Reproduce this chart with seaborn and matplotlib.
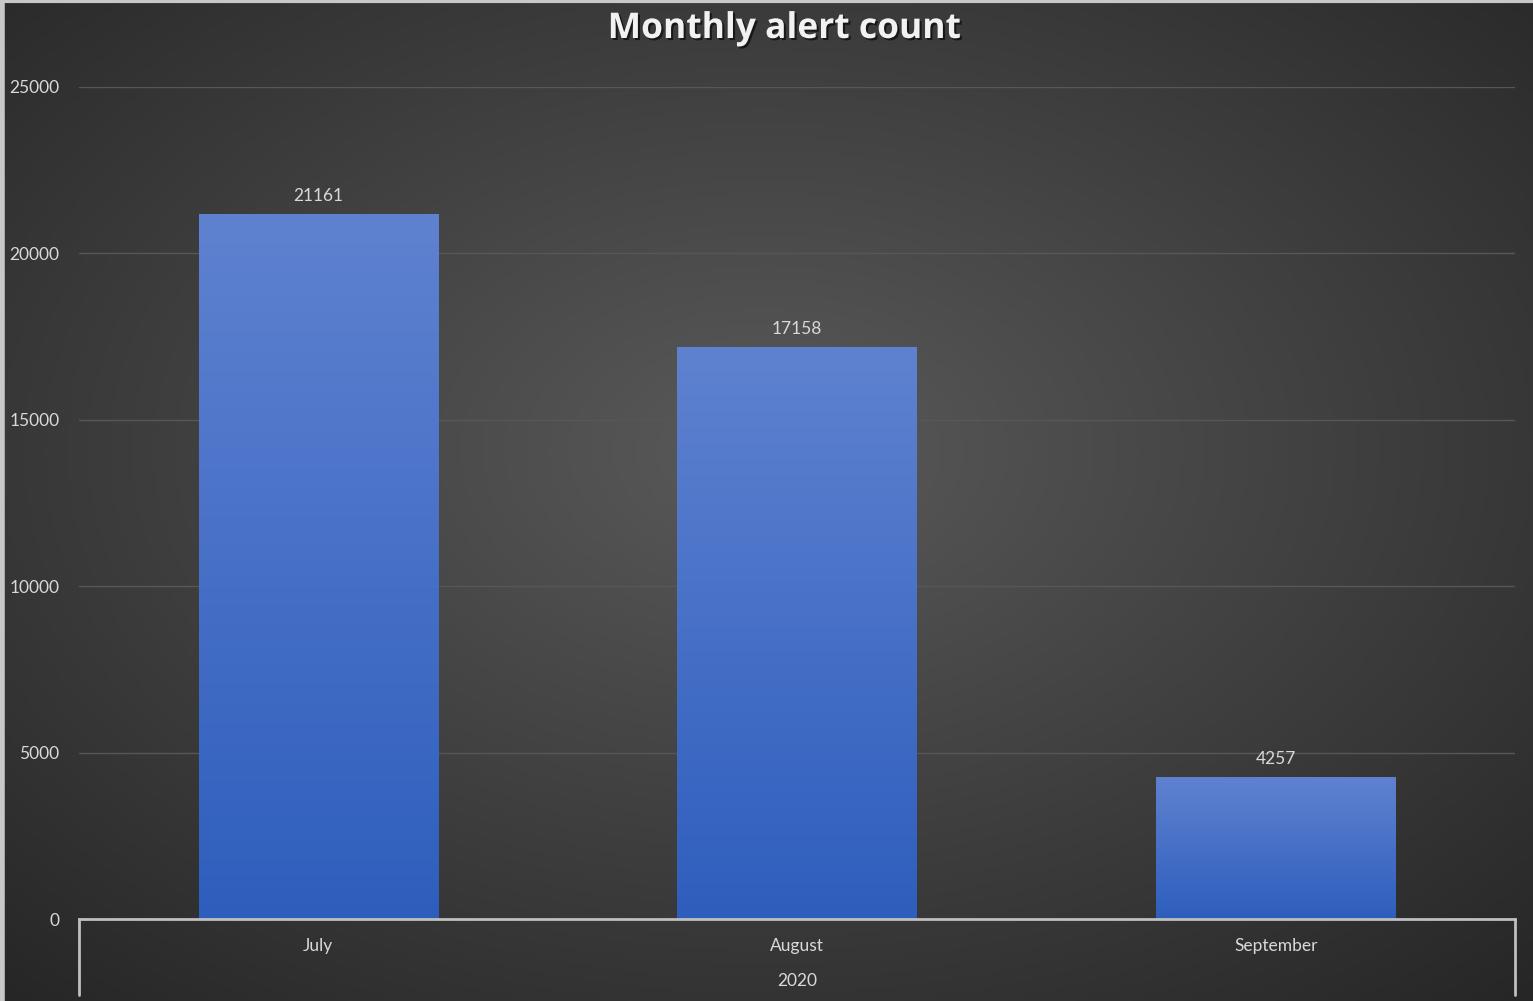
import numpy as np
import pandas as pd
import matplotlib
matplotlib.use("Agg")
import matplotlib.pyplot as plt
import matplotlib.patheffects as pe
from matplotlib.lines import Line2D
import seaborn as sns

months = ['July', 'August', 'September']
alerts = [21161, 17158, 4257]
year = '2020'
yticks = [0, 5000, 10000, 15000, 20000, 25000]

df = pd.DataFrame({'month': months, 'alerts': alerts})

sns.set_style('dark')
plt.rcParams['font.family'] = ['Lato', 'DejaVu Sans']

W, H = 1533, 1001
fig = plt.figure(figsize=(W / 100, H / 100), dpi=100)

# radial background gradient
bg = fig.add_axes([0, 0, 1, 1], zorder=-10)
yy, xx = np.mgrid[0:1:300j, 0:1:460j]
r = np.sqrt(((xx - 0.5) / 0.75) ** 2 + ((yy - 0.45) / 0.75) ** 2)
r = np.clip(r / r.max(), 0, 1)
c0 = np.array([0x5a, 0x5a, 0x5a]) / 255
c1 = np.array([0x26, 0x26, 0x26]) / 255
img = c0[None, None, :] * (1 - r[..., None]) + c1[None, None, :] * r[..., None]
bg.imshow(img, extent=[0, 1, 0, 1], aspect='auto', origin='upper')
bg.set_axis_off()
# thin light frame on top / left like the screenshot
fig.add_artist(Line2D([0, 1], [1 - 1 / H, 1 - 1 / H], color='#c8c8c8', lw=3))
fig.add_artist(Line2D([1.5 / W, 1.5 / W], [0, 1], color='#c8c8c8', lw=4))

ax = fig.add_axes([79 / W, 82 / H, 1436 / W, 832 / H])
ax.set_facecolor('none')
sns.barplot(data=df, x='month', y='alerts', width=0.5, color='#4472c4',
            ax=ax, zorder=3)

# replace flat bars with vertical gradient fill
grad = np.linspace(0, 1, 256)[:, None]
top = np.array([0x5f, 0x82, 0xd0]) / 255
bot = np.array([0x2e, 0x5e, 0xbd]) / 255
gimg = top[None, None, :] * (1 - grad[..., None]) + bot[None, None, :] * grad[..., None]
for p in ax.patches:
    x0, y0 = p.get_x(), p.get_y()
    w, h = p.get_width(), p.get_height()
    p.set_facecolor('none')
    p.set_edgecolor('none')
    ax.imshow(np.repeat(gimg, 2, axis=1), extent=[x0, x0 + w, y0, y0 + h],
              aspect='auto', origin='upper', zorder=3)
    ax.text(x0 + w / 2, y0 + h + 320, f'{int(h)}', ha='center', va='bottom',
            color='#d9d9d9', fontsize=12.5)
ax.set_xlim(-0.5, 2.5)
ax.set_ylim(0, 25000)

ax.set_yticks(yticks)
ax.set_yticklabels([str(t) for t in yticks])
ax.grid(axis='y', color='#575757', lw=1, zorder=0)
ax.grid(axis='x', visible=False)
for s in ['top', 'right', 'left']:
    ax.spines[s].set_visible(False)
ax.spines['bottom'].set_color('#bfbfbf')
ax.spines['bottom'].set_linewidth(2)
ax.spines['bottom'].set_zorder(5)
ax.tick_params(axis='y', colors='#d9d9d9', labelsize=12.5, length=0, pad=14)
ax.tick_params(axis='x', colors='#d9d9d9', labelsize=12.5, length=0, pad=14)
ax.set_xlabel('')
ax.set_ylabel('')

# multi-level category axis: outer brackets and year label
for xf in [79 / W, 1515 / W]:
    fig.add_artist(Line2D([xf, xf], [1 - 919 / H, 1 - 995 / H], color='#bfbfbf', lw=2))
fig.text(797 / W, 1 - 981 / H, year, ha='center', va='center', color='#d9d9d9',
         fontsize=12.5)

fig.text(784 / W, 1 - 29 / H, 'Monthly alert count', ha='center', va='center',
         color='#f2f2f2', fontsize=25.5, fontweight='bold',
         family=['Open Sans', 'DejaVu Sans'],
         path_effects=[pe.withSimplePatchShadow(offset=(1.5, -1.5), shadow_rgbFace='black', alpha=0.6)])

fig.savefig('out.png', dpi=100)
